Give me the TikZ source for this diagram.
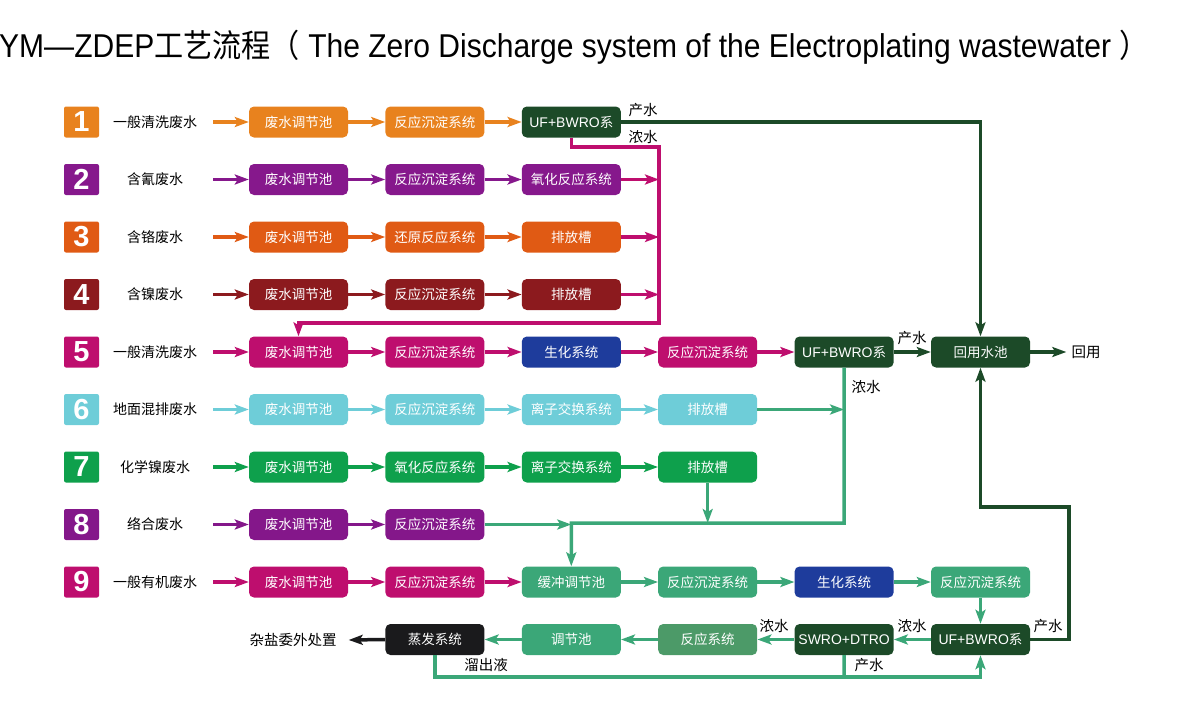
\documentclass[tikz,border=0pt]{standalone}
\usepackage{fontspec}
\setmainfont{Liberation Sans}
\newfontfamily\cjk{Noto Sans CJK SC}
\usetikzlibrary{arrows.meta,calc}
\definecolor{c1}{HTML}{E8821E}
\definecolor{c2}{HTML}{86188C}
\definecolor{c3}{HTML}{E05A14}
\definecolor{c4}{HTML}{8C1A1E}
\definecolor{c5}{HTML}{BE0E6E}
\definecolor{c6}{HTML}{6ECDD8}
\definecolor{c7}{HTML}{0EA04C}
\definecolor{c8}{HTML}{84178A}
\definecolor{c9}{HTML}{BE0E6E}
\definecolor{bl}{HTML}{1E3C9C}
\definecolor{dg}{HTML}{1C4A28}
\definecolor{tl}{HTML}{3BA778}
\definecolor{mg}{HTML}{4C9A68}
\definecolor{bk}{HTML}{1A1A1C}
\newcommand\mybox[5]{\node[box,fill=#4] (#1) at ({298.5+136.4*(#2-1)},{-122-57.5*(#3-1)}) {#5};}
\begin{document}
\begin{tikzpicture}[x=1pt,y=1pt,
 box/.style={rounded corners=5pt, minimum width=99pt, minimum height=31pt, inner sep=0pt, text=white, font=\cjk\fontsize{13.5}{13.5}\selectfont},
 num/.style={rounded corners=2pt, minimum width=35pt, minimum height=31pt, inner sep=0pt, text=white, font=\bfseries\fontsize{29}{29}\selectfont},
 lab/.style={minimum width=116pt, inner sep=0pt, font=\cjk\fontsize{14}{14}\selectfont},
 elab/.style={inner sep=0pt, font=\cjk\fontsize{14.5}{14.5}\selectfont},
 arr/.style={line width=3.5pt, -{Stealth[length=14pt,width=10pt,inset=3pt]}},
 ln/.style={line width=3.5pt}]
\useasboundingbox (0,0) rectangle (1200,-720);
% title
\node[anchor=base west, inner sep=0pt] (title) at (-1,-57) {\scalebox{0.91}[1]{\fontsize{33}{33}\selectfont YM—ZDEP{\cjk\fontsize{32}{32}\selectfont 工艺流程（}\ The Zero Discharge system of the Electroplating wastewater\ {\cjk\fontsize{32}{32}\selectfont ）}}};
% numbers and labels
\foreach \i/\t/\c in {1/一般清洗废水/c1, 2/含氰废水/c2, 3/含铬废水/c3, 4/含镍废水/c4, 5/一般清洗废水/c5, 6/地面混排废水/c6, 7/化学镍废水/c7, 8/络合废水/c8, 9/一般有机废水/c9}{
  \node[num, fill=\c] (n\i) at (81.5,{-122-57.5*(\i-1)}) {\i};
  \node[lab] (l\i) at (155,{-122-57.5*(\i-1)}) {\t};
}
% row 1
\mybox{r1c1}{1}{1}{c1}{废水调节池}
\mybox{r1c2}{2}{1}{c1}{反应沉淀系统}
\mybox{r1c3}{3}{1}{dg}{{\rmfamily\fontsize{14}{14}\selectfont UF+BWRO}系}
% row 2
\mybox{r2c1}{1}{2}{c2}{废水调节池}
\mybox{r2c2}{2}{2}{c2}{反应沉淀系统}
\mybox{r2c3}{3}{2}{c2}{氧化反应系统}
% row 3
\mybox{r3c1}{1}{3}{c3}{废水调节池}
\mybox{r3c2}{2}{3}{c3}{还原反应系统}
\mybox{r3c3}{3}{3}{c3}{排放槽}
% row 4
\mybox{r4c1}{1}{4}{c4}{废水调节池}
\mybox{r4c2}{2}{4}{c4}{反应沉淀系统}
\mybox{r4c3}{3}{4}{c4}{排放槽}
% row 5
\mybox{r5c1}{1}{5}{c5}{废水调节池}
\mybox{r5c2}{2}{5}{c5}{反应沉淀系统}
\mybox{r5c3}{3}{5}{bl}{生化系统}
\mybox{r5c4}{4}{5}{c5}{反应沉淀系统}
\mybox{r5c5}{5}{5}{dg}{{\rmfamily\fontsize{14}{14}\selectfont UF+BWRO}系}
\mybox{r5c6}{6}{5}{dg}{回用水池}
% row 6
\mybox{r6c1}{1}{6}{c6}{废水调节池}
\mybox{r6c2}{2}{6}{c6}{反应沉淀系统}
\mybox{r6c3}{3}{6}{c6}{离子交换系统}
\mybox{r6c4}{4}{6}{c6}{排放槽}
% row 7
\mybox{r7c1}{1}{7}{c7}{废水调节池}
\mybox{r7c2}{2}{7}{c7}{氧化反应系统}
\mybox{r7c3}{3}{7}{c7}{离子交换系统}
\mybox{r7c4}{4}{7}{c7}{排放槽}
% row 8
\mybox{r8c1}{1}{8}{c8}{废水调节池}
\mybox{r8c2}{2}{8}{c8}{反应沉淀系统}
% row 9
\mybox{r9c1}{1}{9}{c9}{废水调节池}
\mybox{r9c2}{2}{9}{c9}{反应沉淀系统}
\mybox{r9c3}{3}{9}{tl}{缓冲调节池}
\mybox{r9c4}{4}{9}{tl}{反应沉淀系统}
\mybox{r9c5}{5}{9}{bl}{生化系统}
\mybox{r9c6}{6}{9}{tl}{反应沉淀系统}
% row 10
\mybox{r10c2}{2}{10}{bk}{蒸发系统}
\mybox{r10c3}{3}{10}{tl}{调节池}
\mybox{r10c4}{4}{10}{mg}{反应系统}
\mybox{r10c5}{5}{10}{dg}{{\rmfamily\fontsize{14}{14}\selectfont SWRO+DTRO}}
\mybox{r10c6}{6}{10}{dg}{{\rmfamily\fontsize{14}{14}\selectfont UF+BWRO}系}
% free text
\node[elab] (hy) at (1086,-352) {回用};
\node[elab] (zy) at (293,-640) {杂盐委外处置};
% corner coordinates
\coordinate (m1) at (659,-147);
\coordinate (m2) at (659,-323);
\coordinate (t1) at (844.1,-523);
\coordinate (g1) at (1069,-507);
\coordinate (b1) at (844.1,-677);
% row 1 arrows
\draw[arr,c1] (l1.east) -- (r1c1.west);
\draw[arr,c1] (r1c1.east) -- (r1c2.west);
\draw[arr,c1] (r1c2.east) -- (r1c3.west);
\draw[arr,dg] (r1c3.east) -| (r5c6.north);
\draw[arr,c5] (r1c3.south) |- (m1) -- (m2) -| (r5c1.north);
% rows 2-4
\foreach \r/\c in {2/c2,3/c3,4/c4}{
  \draw[arr,\c] (l\r.east) -- (r\r c1.west);
  \draw[arr,\c] (r\r c1.east) -- (r\r c2.west);
  \draw[arr,\c] (r\r c2.east) -- (r\r c3.west);
  \draw[arr,c5] (r\r c3.east) -- (r\r c3.east -| m1);
}
% row 5
\draw[arr,c5] (l5.east) -- (r5c1.west);
\draw[arr,c5] (r5c1.east) -- (r5c2.west);
\draw[arr,c5] (r5c2.east) -- (r5c3.west);
\draw[arr,c5] (r5c3.east) -- (r5c4.west);
\draw[arr,c5] (r5c4.east) -- (r5c5.west);
\draw[arr,dg] (r5c5.east) -- (r5c6.west);
\draw[arr,dg] (r5c6.east) -- ([xshift=-5pt]hy.west);
\draw[arr,tl] (r5c5.south) -- (t1) -| (r9c3.north);
% row 6
\draw[arr,c6] (l6.east) -- (r6c1.west);
\draw[arr,c6] (r6c1.east) -- (r6c2.west);
\draw[arr,c6] (r6c2.east) -- (r6c3.west);
\draw[arr,c6] (r6c3.east) -- (r6c4.west);
\draw[arr,tl] (r6c4.east) -- (r6c4.east -| t1);
% row 7
\draw[arr,c7] (l7.east) -- (r7c1.west);
\draw[arr,c7] (r7c1.east) -- (r7c2.west);
\draw[arr,c7] (r7c2.east) -- (r7c3.west);
\draw[arr,c7] (r7c3.east) -- (r7c4.west);
\draw[arr,tl] (r7c4.south) -- (r7c4.south |- t1);
% row 8
\draw[arr,c8] (l8.east) -- (r8c1.west);
\draw[arr,c8] (r8c1.east) -- (r8c2.west);
\draw[arr,tl] (r8c2.east) -- (r8c2.east -| r9c3.north);
% row 9
\draw[arr,c9] (l9.east) -- (r9c1.west);
\draw[arr,c9] (r9c1.east) -- (r9c2.west);
\draw[arr,c9] (r9c2.east) -- (r9c3.west);
\draw[arr,tl] (r9c3.east) -- (r9c4.west);
\draw[arr,tl] (r9c4.east) -- (r9c5.west);
\draw[arr,tl] (r9c5.east) -- (r9c6.west);
\draw[arr,tl] (r9c6.south) -- (r10c6.north);
% row 10
\draw[arr,tl] (r10c6.west) -- (r10c5.east);
\draw[arr,tl] (r10c5.west) -- (r10c4.east);
\draw[arr,tl] (r10c4.west) -- (r10c3.east);
\draw[arr,tl] (r10c3.west) -- (r10c2.east);
\draw[arr,bk] (r10c2.west) -- ([xshift=12pt]zy.east);
\draw[arr,dg] (r10c6.east) -| (g1) -| (r5c6.south);
\draw[arr,tl] (r10c2.south) |- (b1) -| (r10c6.south);
\draw[ln,tl] (r10c5.south) -- (b1);
% connector labels
\node[elab] at (643,-110) {产水};
\node[elab] at (643,-137) {浓水};
\node[elab] at (912,-338) {产水};
\node[elab] at (866,-387) {浓水};
\node[elab] at (774,-626) {浓水};
\node[elab] at (912,-626) {浓水};
\node[elab] at (1048,-626) {产水};
\node[elab] at (869,-665) {产水};
\node[elab] at (486,-665) {溜出液};
\end{tikzpicture}
\end{document}
